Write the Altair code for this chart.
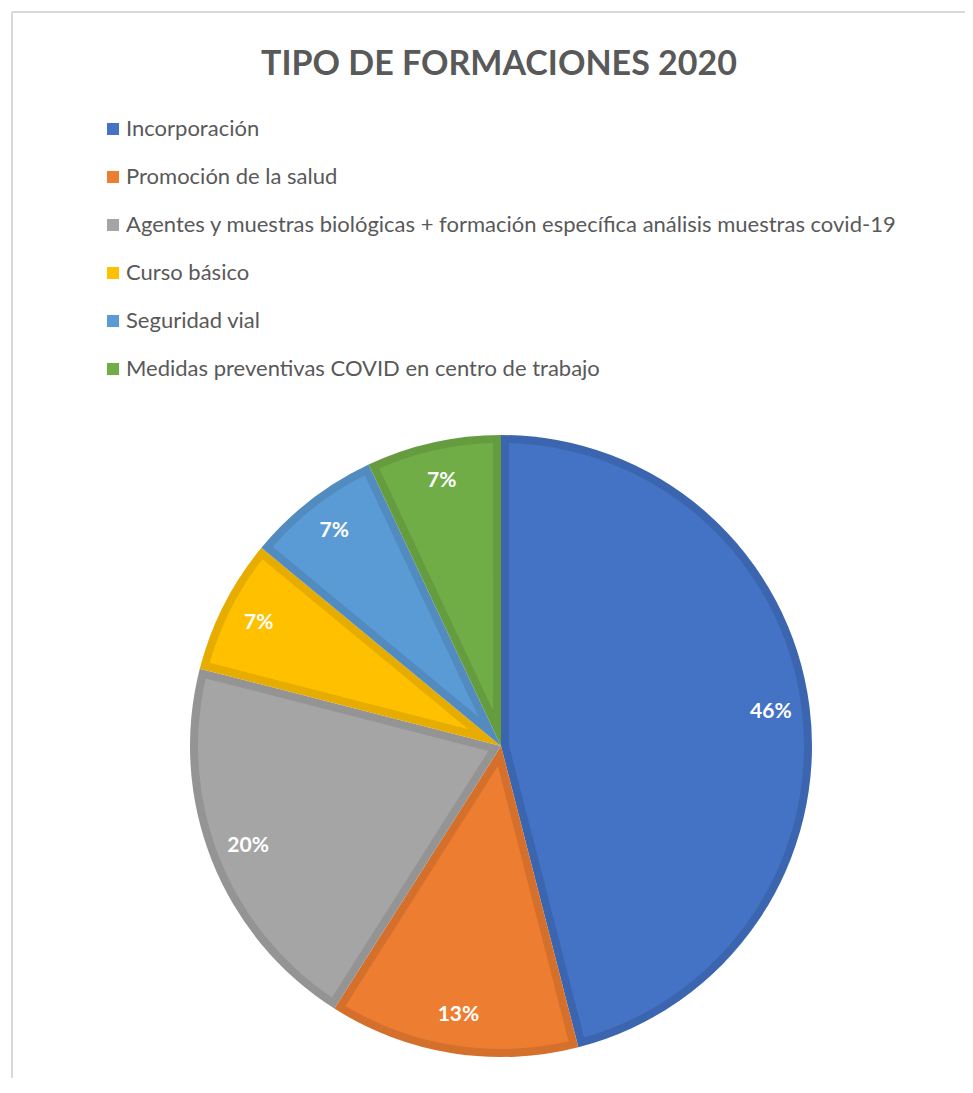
import math
import altair as alt
import pandas as pd

titulo = "TIPO DE FORMACIONES 2020"
categorias = [
    "Incorporación",
    "Promoción de la salud",
    "Agentes y muestras biológicas + formación específica análisis muestras covid-19",
    "Curso básico",
    "Seguridad vial",
    "Medidas preventivas COVID en centro de trabajo",
]
porcentajes = [46, 13, 20, 7, 7, 7]
colores = ["#4472C4", "#ED7D31", "#A5A5A5", "#FFC000", "#5B9BD5", "#70AD47"]
colores_borde = ["#3C65B0", "#D5702C", "#949494", "#E6AC00", "#518BC0", "#659C40"]

df = pd.DataFrame({
    "categoria": categorias,
    "valor": porcentajes,
    "orden": list(range(len(categorias))),
})

W, H = 953, 1066
CX, CY = 489, 734
R = 311
BORDE = 8
FONT = "Lato"

base = alt.Chart(df).encode(
    theta=alt.Theta("valor:Q", stack=True),
    order=alt.Order("orden:Q"),
    x=alt.value(CX),
    y=alt.value(CY),
)

oscuro = base.mark_arc(radius=R).encode(
    color=alt.Color("categoria:N", scale=alt.Scale(domain=categorias, range=colores_borde), legend=None),
)

claro = base.mark_arc(padAngle=2 * math.asin(BORDE / (R - BORDE))).transform_joinaggregate(
    total="sum(valor)"
).transform_calculate(
    r_ext=f"{R - BORDE}",
    r_int=f"{BORDE} / sin(PI * datum.valor / datum.total)",
).encode(
    radius=alt.Radius("r_ext:Q", scale=None),
    radius2=alt.Radius2("r_int:Q"),
    fill=alt.Fill(
        "categoria:N",
        scale=alt.Scale(domain=categorias, range=colores),
        sort=categorias,
        legend=alt.Legend(
            title=None,
            orient="none",
            legendX=90,
            legendY=106,
            symbolType="square",
            symbolSize=144,
            symbolStrokeWidth=0,
            symbolOpacity=1,
            labelFont=FONT,
            labelFontSize=22,
            labelColor="#595959",
            labelOffset=2,
            labelLimit=1000,
            rowPadding=26,
            padding=0,
        ),
    ),
)

etiquetas = base.mark_text(
    font=FONT, fontSize=21, fontWeight="bold", color="white", align="center", baseline="middle"
).transform_calculate(
    etiqueta="datum.valor + '%'"
).encode(
    radius=alt.value(272),
    text="etiqueta:N",
)

titulo_chart = alt.Chart(pd.DataFrame({"t": [titulo]})).mark_text(
    font=FONT, fontSize=34, fontWeight="bold", color="#595959", align="center", baseline="alphabetic"
).encode(text="t:N", x=alt.value(487), y=alt.value(63))

marco_sup = alt.Chart(pd.DataFrame({"t": [titulo]})).mark_rule(color="#D9D9D9", strokeWidth=2).encode(
    x=alt.value(0), x2=alt.value(W), y=alt.value(0)
)
marco_izq = alt.Chart(pd.DataFrame({"t": [titulo]})).mark_rule(color="#D9D9D9", strokeWidth=2).encode(
    x=alt.value(0), y=alt.value(0), y2=alt.value(H)
)

chart = alt.layer(
    marco_sup, marco_izq, titulo_chart, oscuro, claro, etiquetas
).resolve_scale(
    color="independent", fill="independent"
).properties(
    width=W, height=H, padding={"left": 4, "top": 4, "right": 0, "bottom": 0},
    autosize=alt.AutoSizeParams(type="none"),
).configure_view(stroke=None)

chart.save("out.html", embed_options={"renderer": "svg", "actions": False})
